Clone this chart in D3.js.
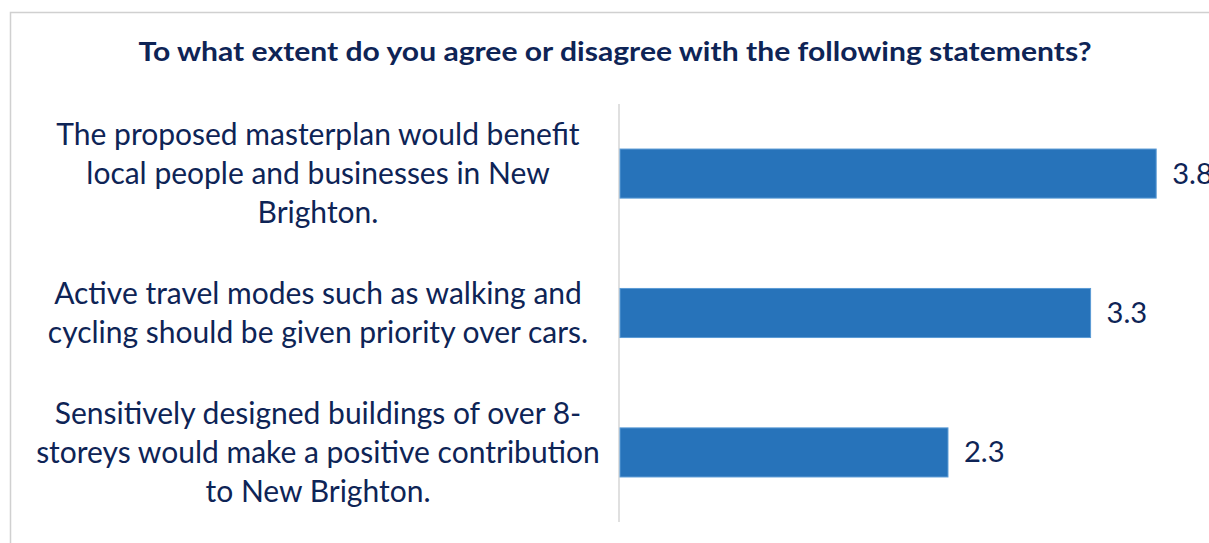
<!DOCTYPE html>
<html>
<head>
<meta charset="utf-8">
<script src="https://cdn.jsdelivr.net/npm/d3@7"></script>
<style>
  html, body { margin: 0; padding: 0; background: #fff; }
  svg { display: block; }
</style>
</head>
<body>
<svg id="chart" width="1209" height="543"></svg>
<script>
// chart data
const title = 'To what extent do you agree or disagree with the following statements?';
const categories = [
  ['The proposed masterplan would benefit', 'local people and businesses in New', 'Brighton.'],
  ['Active travel modes such as walking and', 'cycling should be given priority over cars.'],
  ['Sensitively designed buildings of over 8-', 'storeys would make a positive contribution', 'to New Brighton.'],
];
const values = [3.76, 3.3, 2.3];

const navy = '#0e2456';
const barFill = '#2773ba';
const font = 'Lato, "Open Sans", sans-serif';

const svg = d3.select('#chart');

// outer frame, runs off right and bottom edges
svg.append('rect')
  .attr('x', 10.5).attr('y', 12.5)
  .attr('width', 1300).attr('height', 600)
  .attr('fill', 'none')
  .attr('stroke', '#d0d0d0')
  .attr('stroke-width', 1.5);

const x = d3.scaleLinear().domain([0, 4]).range([620, 1190.4]);
const y = d3.scaleBand()
  .domain(d3.range(categories.length))
  .range([104, 522])
  .paddingInner(0.648)
  .paddingOuter(0.323);

// title (stretched a bit, Lato runs narrower than the original face)
svg.append('text')
  .attr('transform', 'translate(615,61) scale(1.115,1)')
  .attr('text-anchor', 'middle')
  .attr('font-family', font)
  .attr('font-weight', 700)
  .attr('font-size', 27)
  .attr('fill', navy)
  .text(title);

// vertical axis line
svg.append('line')
  .attr('x1', 619).attr('x2', 619)
  .attr('y1', y.range()[0]).attr('y2', y.range()[1])
  .attr('stroke', '#e0e0e0')
  .attr('stroke-width', 2);

// bars
svg.append('g')
  .selectAll('rect')
  .data(values)
  .join('rect')
  .attr('x', x(0))
  .attr('y', (d, i) => y(i))
  .attr('width', d => x(d) - x(0))
  .attr('height', y.bandwidth())
  .attr('fill', barFill)
  .attr('stroke', '#5b9bd5')
  .attr('stroke-width', 1);

// value labels
const fmt = d3.format('.1f');
svg.append('g')
  .selectAll('text')
  .data(values)
  .join('text')
  .attr('transform', (d, i) => `translate(${x(d) + 16},${y(i) + y.bandwidth() / 2 + 10}) scale(1.04,1)`)
  .attr('font-family', font)
  .attr('font-size', 28)
  .attr('fill', navy)
  .text(d => fmt(d));

// category labels, wrapped lines centred on each bar
const lineGap = 39;
const labels = svg.append('g');
categories.forEach((lines, i) => {
  const cy = y(i) + y.bandwidth() / 2;
  lines.forEach((line, j) => {
    labels.append('text')
      .attr('x', 318)
      .attr('y', cy + (j - (lines.length - 1) / 2) * lineGap + 10.5)
      .attr('text-anchor', 'middle')
      .attr('font-family', font)
      .attr('font-size', 30)
      .attr('fill', navy)
      .text(line);
  });
});
</script>
</body>
</html>
